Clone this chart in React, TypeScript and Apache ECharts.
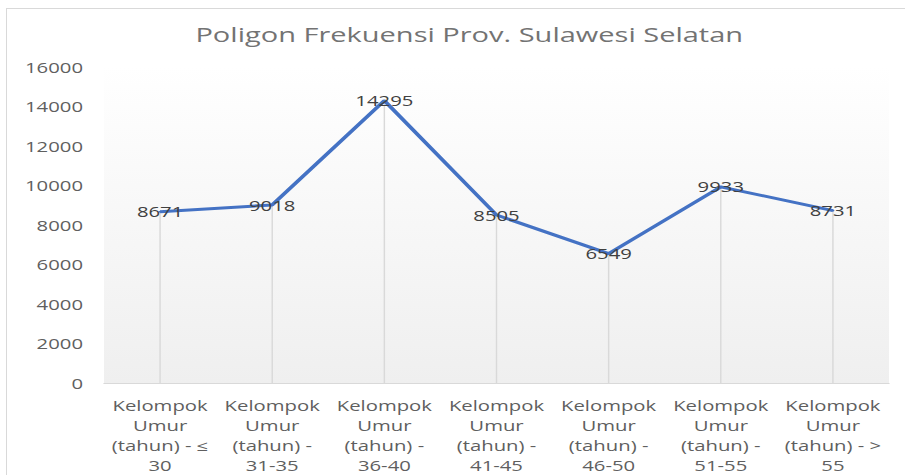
import React, { useEffect, useRef } from "react";
import * as echarts from "echarts";

const TITLE = "Poligon Frekuensi Prov. Sulawesi Selatan";
const CATEGORIES = [
  "Kelompok Umur (tahun) - ≤ 30",
  "Kelompok Umur (tahun) - 31-35",
  "Kelompok Umur (tahun) - 36-40",
  "Kelompok Umur (tahun) - 41-45",
  "Kelompok Umur (tahun) - 46-50",
  "Kelompok Umur (tahun) - 51-55",
  "Kelompok Umur (tahun) - > 55",
];
const VALUES = [8671, 9018, 14295, 8505, 6549, 9933, 8731];
const Y_MIN = 0;
const Y_MAX = 16000;
const Y_STEP = 2000;

const FULL_W = 905;
const FULL_H = 475;
const INNER_W = 624;
const SX = FULL_W / INNER_W;

function wrapLabel(s: string): string {
  const m = s.match(/^(\S+) (\S+) (\(tahun\) -) (.*)$/);
  if (!m) return s;
  const rest = m[4];
  const sym = rest.match(/^([≤>]) (.*)$/);
  if (sym) return `${m[1]}\n${m[2]}\n${m[3]} ${sym[1]}\n${sym[2]}`;
  return `${m[1]}\n${m[2]}\n${m[3]}\n${rest}`;
}

export default function App() {
  const ref = useRef<HTMLDivElement>(null);
  useEffect(() => {
    if (!ref.current) return;
    const chart = echarts.init(ref.current, undefined, { renderer: "svg" });
    const font = "'Open Sans', sans-serif";
    chart.setOption({
      animation: false,
      backgroundColor: "#ffffff",
      title: {
        text: TITLE,
        left: 462 / SX,
        textAlign: "center",
        top: 19,
        textStyle: { fontFamily: font, fontSize: 20, fontWeight: "normal", color: "#737373" },
      },
      grid: {
        left: 104 / SX,
        right: 16 / SX,
        top: 67,
        bottom: FULL_H - 387,
        show: true,
        borderWidth: 0,
        backgroundColor: new echarts.graphic.LinearGradient(0, 0, 0, 1, [
          { offset: 0, color: "#ffffff" },
          { offset: 1, color: "#efefef" },
        ]),
      },
      xAxis: {
        type: "category",
        data: CATEGORIES,
        boundaryGap: true,
        axisLine: { show: true, lineStyle: { color: "#d9d9d9", width: 1 } },
        axisTick: { show: false },
        splitLine: { show: false },
        axisLabel: {
          interval: 0,
          margin: 12,
          fontFamily: font,
          fontSize: 14,
          lineHeight: 20,
          color: "#5f5f5f",
          align: "center",
          formatter: (v: string) => wrapLabel(v),
        },
      },
      yAxis: {
        type: "value",
        min: Y_MIN,
        max: Y_MAX,
        interval: Y_STEP,
        axisLine: { show: false },
        axisTick: { show: false },
        splitLine: { show: false },
        axisLabel: {
          margin: (104 - 83) / SX,
          fontFamily: font,
          fontSize: 14,
          color: "#5f5f5f",
          formatter: (v: number) => String(v),
        },
      },
      series: [
        {
          type: "bar",
          data: VALUES,
          barWidth: 1,
          silent: true,
          itemStyle: { color: "#d9d9d9" },
          z: 1,
        },
        {
          type: "line",
          data: VALUES,
          symbol: "circle",
          symbolSize: 2,
          itemStyle: { color: "#4472c4" },
          lineStyle: { color: "#4472c4", width: 3 },
          z: 3,
          label: {
            show: true,
            position: "inside",
            fontFamily: font,
            fontSize: 14,
            color: "#404040",
          },
        },
      ],
    });
    return () => chart.dispose();
  }, []);
  return (
    <div
      style={{
        position: "fixed",
        left: 0,
        top: 0,
        width: FULL_W,
        height: FULL_H,
        overflow: "hidden",
        background: "#ffffff",
      }}
    >
      <div
        ref={ref}
        style={{
          position: "absolute",
          left: 0,
          top: 0,
          width: INNER_W,
          height: FULL_H,
          transform: `scaleX(${SX})`,
          transformOrigin: "0 0",
        }}
      />
      <div
        style={{
          position: "absolute",
          left: 6,
          top: 8,
          width: FULL_W,
          height: FULL_H + 20,
          border: "1px solid #d9d9d9",
          pointerEvents: "none",
        }}
      />
    </div>
  );
}
